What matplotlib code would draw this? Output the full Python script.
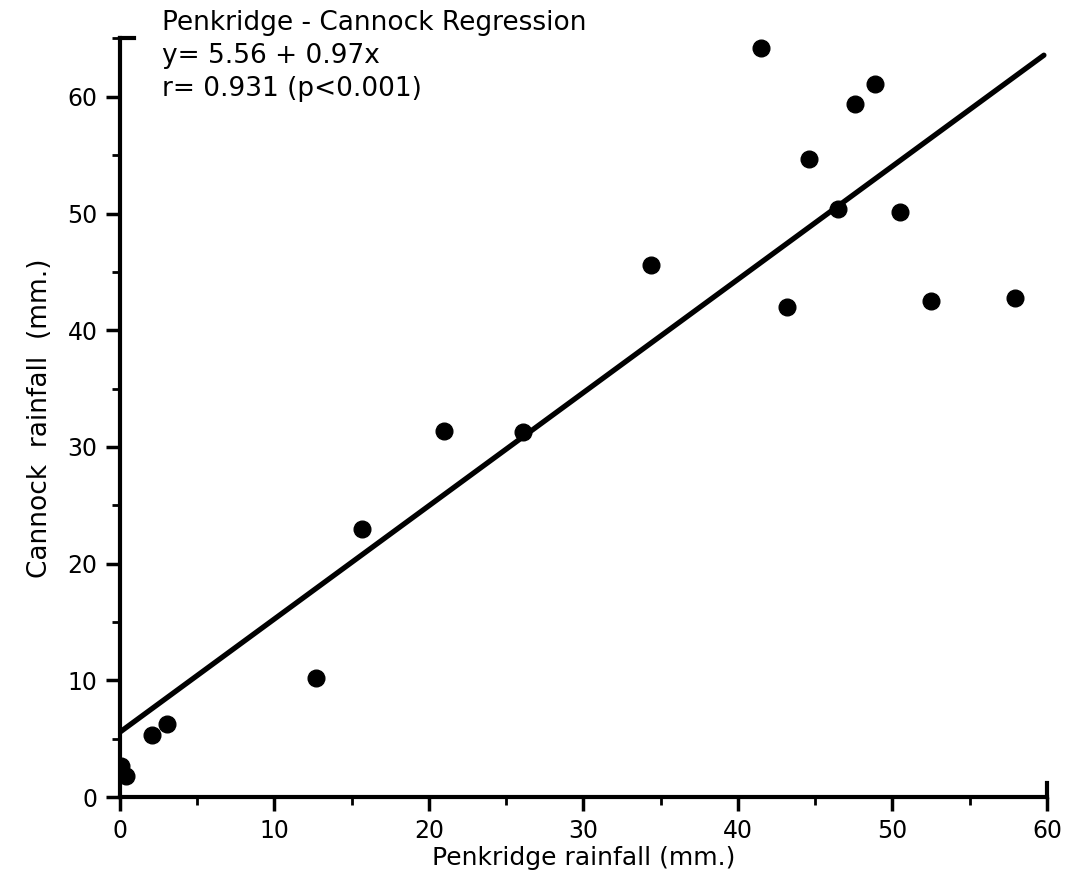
import numpy as np
from matplotlib import pyplot as plt
from matplotlib.ticker import MultipleLocator

# Penkridge (x) vs Cannock (y) rainfall, mm
penkridge = [0.1, 0.4, 2.05, 3.05, 12.7, 15.7, 21.0, 26.1, 34.4, 41.5,
             43.2, 44.6, 46.5, 47.6, 48.9, 50.5, 52.5, 57.9]
cannock = [2.7, 1.8, 5.3, 6.3, 10.2, 23.0, 31.4, 31.3, 45.6, 64.2,
           42.0, 54.7, 50.4, 59.4, 61.1, 50.1, 42.5, 42.8]

# regression from the figure text
intercept = 5.56
slope = 0.97
line_x = [0, 59.8]

plt.rcParams['font.family'] = ['DejaVu Sans']

fig = plt.figure(figsize=(10.7, 8.74), dpi=100)
ax = fig.add_axes([0.112, 0.088, 0.8665, 0.868])

ax.plot(penkridge, cannock, 'o', color='black', markersize=12, zorder=3)
lx = np.array(line_x)
ax.plot(lx, intercept + slope * lx, color='black', linewidth=3.8,
        solid_capstyle='round', zorder=2)

ax.set_xlim(0, 60)
ax.set_ylim(0, 65)

for side in ['top', 'right']:
    ax.spines[side].set_visible(False)
for side in ['left', 'bottom']:
    ax.spines[side].set_linewidth(3)
ax.spines['bottom'].set_bounds(0, 60)

# end brackets on the axes
ax.plot([60, 60], [0, 1.2], color='black', linewidth=3, clip_on=False)
ax.plot([0, 0.9], [65, 65], color='black', linewidth=3, clip_on=False)

ax.xaxis.set_major_locator(MultipleLocator(10))
ax.xaxis.set_minor_locator(MultipleLocator(5))
ax.yaxis.set_major_locator(MultipleLocator(10))
ax.yaxis.set_minor_locator(MultipleLocator(5))
ax.tick_params(which='major', length=10, width=2.5, labelsize=17, pad=6)
ax.tick_params(which='minor', length=6, width=2)

ax.set_xlabel('Penkridge rainfall (mm.)', fontsize=18, labelpad=2)
ax.set_ylabel('Cannock  rainfall  (mm.)', fontsize=19, labelpad=10)

ax.text(0.045, 1.038, 'Penkridge - Cannock Regression\ny= 5.56 + 0.97x\nr= 0.931 (p<0.001)',
        transform=ax.transAxes, fontsize=19, va='top', ha='left', linespacing=1.35)

plt.savefig('out.png', dpi=100)
